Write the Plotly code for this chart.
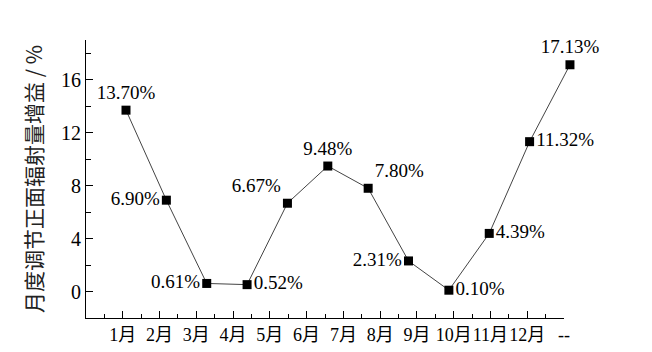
import plotly.graph_objects as go

months = [1, 2, 3, 4, 5, 6, 7, 8, 9, 10, 11, 12]
gain = [13.70, 6.90, 0.61, 0.52, 6.67, 9.48, 7.80, 2.31, 0.10, 4.39, 11.32, 17.13]
point_labels = ["13.70%", "6.90%", "0.61%", "0.52%", "6.67%", "9.48%",
                "7.80%", "2.31%", "0.10%", "4.39%", "11.32%", "17.13%"]
label_pos = ["top center", "middle left", "middle left", "middle right", "top left",
             "top center", "top right", "middle left", "middle right", "middle right",
             "middle right", "top center"]
tick_labels = ["1月", "2月", "3月", "4月", "5月", "6月", "7月", "8月", "9月",
               "10月", "11月", "12月", "--"]
tick_vals = list(range(1, len(tick_labels) + 1))
y_ticks = [0, 4, 8, 12, 16]

serif = "Liberation Serif, Times New Roman, Noto Sans CJK SC, serif"

L, R, T, B = 86, 60, 40, 34
W = 652 - L - R
axis_px = 478  # visible x-axis length

fig = go.Figure()
fig.add_trace(go.Scatter(x=[tick_vals[0]], y=[None], xaxis="x2", yaxis="y",
                         showlegend=False, hoverinfo="skip"))
fig.add_trace(go.Scatter(
    x=months, y=gain, mode="lines+markers+text",
    line=dict(color="#444444", width=1),
    marker=dict(symbol="square", size=9, color="black"),
    text=point_labels, textposition=label_pos,
    textfont=dict(family=serif, size=19, color="black"),
    cliponaxis=False, showlegend=False, xaxis="x", yaxis="y",
))

fig.update_layout(
    width=652, height=352, autosize=False,
    margin=dict(l=L, r=R, t=T, b=B),
    plot_bgcolor="rgba(0,0,0,0)", paper_bgcolor="white",
    xaxis=dict(range=[0.009, 0.009 + W / 40.36], domain=[0, 1], visible=False,
               showgrid=False, zeroline=False),
    xaxis2=dict(
        domain=[0, axis_px / W], anchor="y", side="bottom", range=[0, 13],
        tickmode="array", tickvals=tick_vals, ticktext=tick_labels, tickangle=0,
        ticks="inside", ticklen=7, tickwidth=1, tickcolor="black",
        minor=dict(ticks="inside", ticklen=4, tick0=0.5, dtick=1, tickcolor="black", tickwidth=1),
        showline=True, linecolor="black", linewidth=1.2,
        showgrid=False, zeroline=False, automargin=False,
        tickfont=dict(family=serif, size=18, color="black"),
    ),
    yaxis=dict(
        range=[-2, 19], tickmode="array", tickvals=y_ticks, anchor="x",
        ticks="inside", ticklen=7, tickwidth=1, tickcolor="black",
        minor=dict(ticks="inside", ticklen=5, tick0=0, dtick=2, tickcolor="black", tickwidth=1),
        showline=True, linecolor="black", linewidth=1.2,
        showgrid=False, zeroline=False, automargin=False,
        tickfont=dict(family=serif, size=20, color="black"),
        title=dict(text="月度调节正面辐射量增益 / %",
                   font=dict(family="Noto Sans CJK SC, sans-serif", size=21, color="#222222"),
                   standoff=12),
    ),
)

fig.write_html("out.html")
